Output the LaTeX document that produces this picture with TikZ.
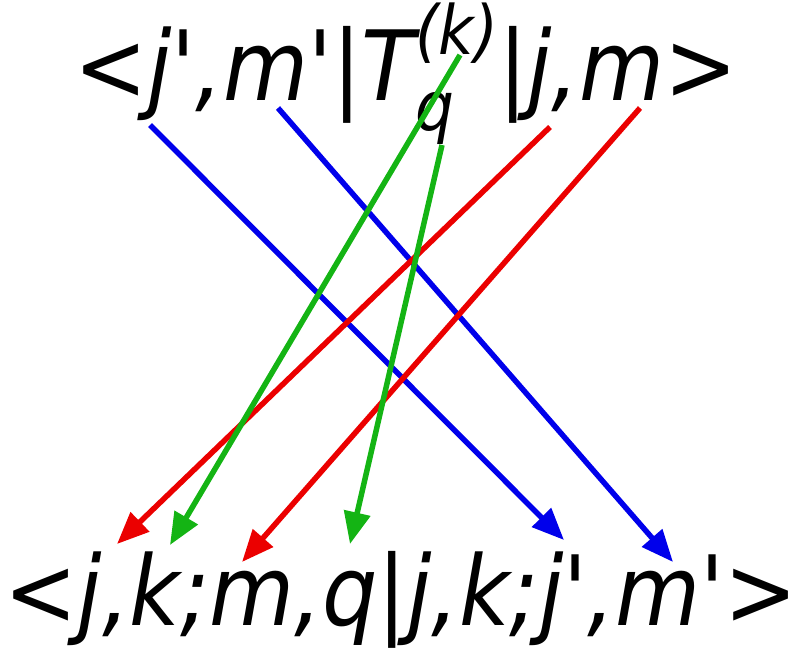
\documentclass[tikz,border=0pt]{standalone}
\usepackage{fontspec}
\usepackage{tikz}
\usetikzlibrary{arrows.meta}
\newfontfamily\brafont{DejaVu Sans Condensed}
\definecolor{vblue}{RGB}{0,0,235}
\definecolor{vred}{RGB}{235,0,0}
\definecolor{vgreen}{RGB}{20,180,20}
\newcommand{\scfont}{\fontsize{68}{68}\selectfont}
\newsavebox{\kbox}

\begin{document}
\begin{tikzpicture}[x=1pt,y=-1pt,
  bra/.style={font=\brafont\itshape\fontsize{97}{104}\selectfont, inner sep=0pt},
  link/.style={line width=5.5pt, -{Triangle[length=32pt,width=26pt]}}]
\useasboundingbox (0,0) rectangle (800,649);
% matrix element and coupled bra
\node[bra, anchor=base] (top) at (406,100) {<j\textquotesingle,m\textquotesingle|T\sbox\kbox{\scfont(k)}\rlap{\raisebox{46pt}{\usebox\kbox}}\makebox[\wd\kbox][l]{\raisebox{-30pt}{\scfont q}}|j,m>};
\node[bra, anchor=base] (bot) at (401,625) {<j,k;m,q|j,k;j\textquotesingle,m\textquotesingle>};
% ends of the links
\coordinate (jp-top) at (150,125);
\coordinate (jp-bot) at (564,540);
\coordinate (mp-top) at (278,108);
\coordinate (mp-bot) at (673,562);
\coordinate (j-top) at (550,127);
\coordinate (j-bot) at (117,544);
\coordinate (m-top) at (640,108);
\coordinate (m-bot) at (242,562);
\coordinate (k-top) at (460,55);
\coordinate (k-bot) at (170,545);
\coordinate (q-top) at (442,145);
\coordinate (q-bot) at (350,544);
% primed labels
\draw[link, vblue] (jp-top) -- (jp-bot);
\draw[link, vblue] (mp-top) -- (mp-bot);
% unprimed labels
\draw[link, vred] (j-top) -- (j-bot);
\draw[link, vred] (m-top) -- (m-bot);
% tensor rank and component
\draw[link, vgreen] (k-top) -- (k-bot);
\draw[link, vgreen] (q-top) -- (q-bot);
\end{tikzpicture}
\end{document}
